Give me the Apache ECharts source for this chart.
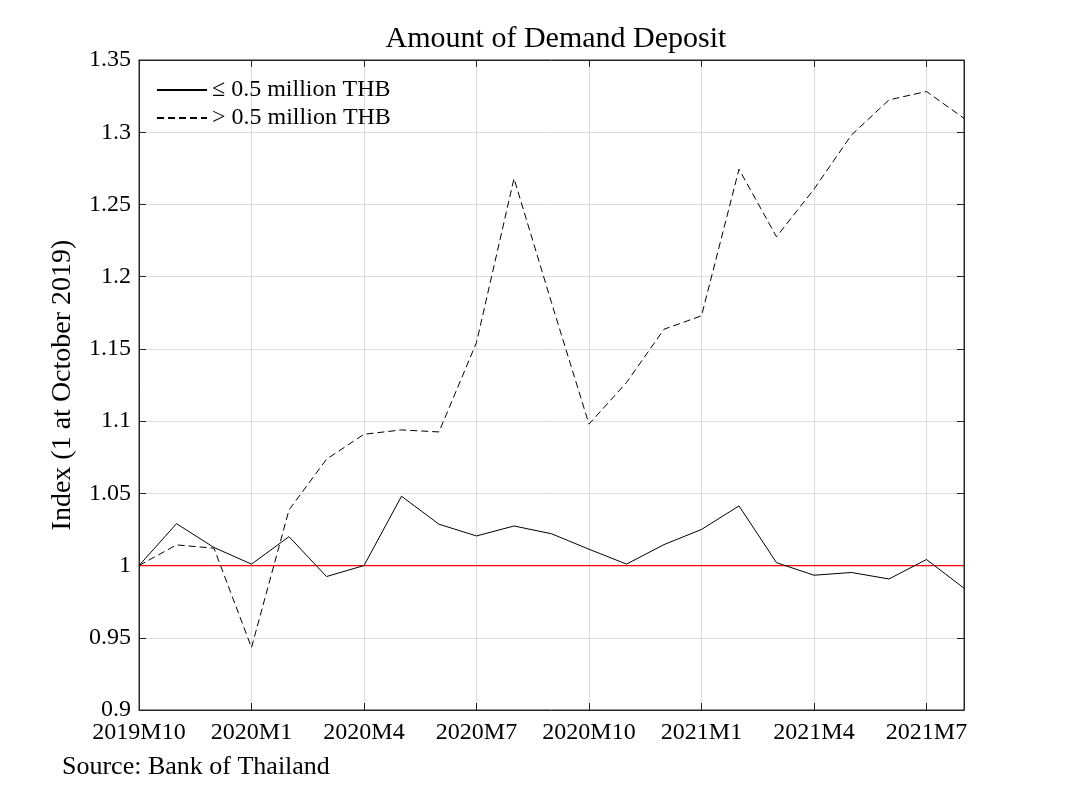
<!DOCTYPE html>
<html>
<head>
<meta charset="utf-8">
<script src="https://cdn.jsdelivr.net/npm/echarts@6/dist/echarts.min.js"></script>
<style>
html,body{margin:0;padding:0;background:#fff;}
#chart{width:1066px;height:799px;}
</style>
</head>
<body>
<div id="chart"></div>
<script>
var categories = ['2019M10','2019M11','2019M12','2020M1','2020M2','2020M3','2020M4','2020M5','2020M6','2020M7','2020M8','2020M9','2020M10','2020M11','2020M12','2021M1','2021M2','2021M3','2021M4','2021M5','2021M6','2021M7','2021M8'];
var smallDeposit = [1.000,1.029,1.0125,1.001,1.020,0.9924,1.000,1.048,1.0286,1.0205,1.0274,1.022,1.0113,1.001,1.0145,1.025,1.0413,1.002,0.9933,0.9952,0.9907,1.0042,0.9843];
var largeDeposit = [1.000,1.0143,1.012,0.9432,1.0385,1.0736,1.0909,1.0939,1.0925,1.1544,1.268,1.182,1.0979,1.1267,1.1636,1.1729,1.2744,1.2276,1.2606,1.2981,1.3224,1.3282,1.3096];
var seriesNames = ['\u2264 0.5 million THB', '> 0.5 million THB'];
var yTicks = {min: 0.9, max: 1.35, interval: 0.05};
var baseline = 1;

var FONT = '"Liberation Serif", "DejaVu Serif", serif';
var AX = '#262626';
var RED = '#ff0000';
var chart = echarts.init(document.getElementById('chart'));
function yFmt(v){ return String(parseFloat(v.toFixed(2))); }
chart.setOption({
  animation: false,
  backgroundColor: '#fff',
  textStyle: {fontFamily: FONT},
  title: {
    text: 'Amount of Demand Deposit',
    left: 551, top: 19, textAlign: 'center',
    textStyle: {fontFamily: FONT, fontSize: 30, fontWeight: 'normal', color: '#000'}
  },
  grid: {left: 139, right: 102, top: 60, bottom: 89, show: true, borderColor: AX, borderWidth: 1, backgroundColor: 'transparent'},
  legend: {
    left: 151, top: 73, orient: 'vertical', itemGap: 4, itemWidth: 50, itemHeight: 14,
    textStyle: {fontFamily: FONT, fontSize: 24, color: '#000'},
    itemStyle: {opacity: 0, color: 'transparent', borderWidth: 0},
    data: seriesNames
  },
  xAxis: [{
    type: 'category', data: categories, boundaryGap: false,
    axisLine: {onZero: false, lineStyle: {color: AX}},
    axisTick: {inside: true, interval: 2, length: 7, lineStyle: {color: AX}},
    axisLabel: {interval: 2, color: '#000', fontFamily: FONT, fontSize: 24, margin: 11},
    splitLine: {show: true, interval: 2, lineStyle: {color: '#dcdcdc'}}
  },{
    type: 'category', data: categories, boundaryGap: false, position: 'top',
    axisLine: {onZero: false, lineStyle: {color: AX}},
    axisTick: {inside: true, interval: 2, length: 7, lineStyle: {color: AX}},
    axisLabel: {show: false}, splitLine: {show: false}
  }],
  yAxis: [{
    type: 'value', min: yTicks.min, max: yTicks.max, interval: yTicks.interval,
    name: 'Index (1 at October 2019)', nameLocation: 'middle', nameGap: 62,
    nameTextStyle: {fontFamily: FONT, fontSize: 28, color: '#000'},
    axisLine: {show: true, onZero: false, lineStyle: {color: AX}},
    axisTick: {show: true, inside: true, length: 7, lineStyle: {color: AX}},
    axisLabel: {color: '#000', fontFamily: FONT, fontSize: 24, margin: 8, formatter: yFmt},
    splitLine: {show: true, lineStyle: {color: '#dcdcdc'}}
  },{
    type: 'value', min: yTicks.min, max: yTicks.max, interval: yTicks.interval, position: 'right',
    axisLine: {show: true, onZero: false, lineStyle: {color: AX}},
    axisTick: {show: true, inside: true, length: 7, lineStyle: {color: AX}},
    axisLabel: {show: false}, splitLine: {show: false}
  }],
  series: [{
    name: 'baseline', type: 'line', symbol: 'none', silent: true,
    data: [[categories[0], baseline], [categories[categories.length - 1], baseline]],
    lineStyle: {color: RED, width: 1.3, type: 'solid'}, itemStyle: {color: RED},
    z: 2
  },{
    name: seriesNames[0], type: 'line', data: smallDeposit, symbol: 'none',
    lineStyle: {color: '#000', width: 1, type: 'solid'}, itemStyle: {color: '#000'},
    z: 3
  },{
    name: seriesNames[1], type: 'line', data: largeDeposit, symbol: 'none',
    lineStyle: {color: '#000', width: 1, type: [7, 4]}, itemStyle: {color: '#000'},
    z: 3
  }],
  graphic: [{
    type: 'text', left: 62, top: 754,
    style: {text: 'Source: Bank of Thailand', font: '26px ' + FONT, fill: '#000'}
  }]
});
</script>
</body>
</html>
